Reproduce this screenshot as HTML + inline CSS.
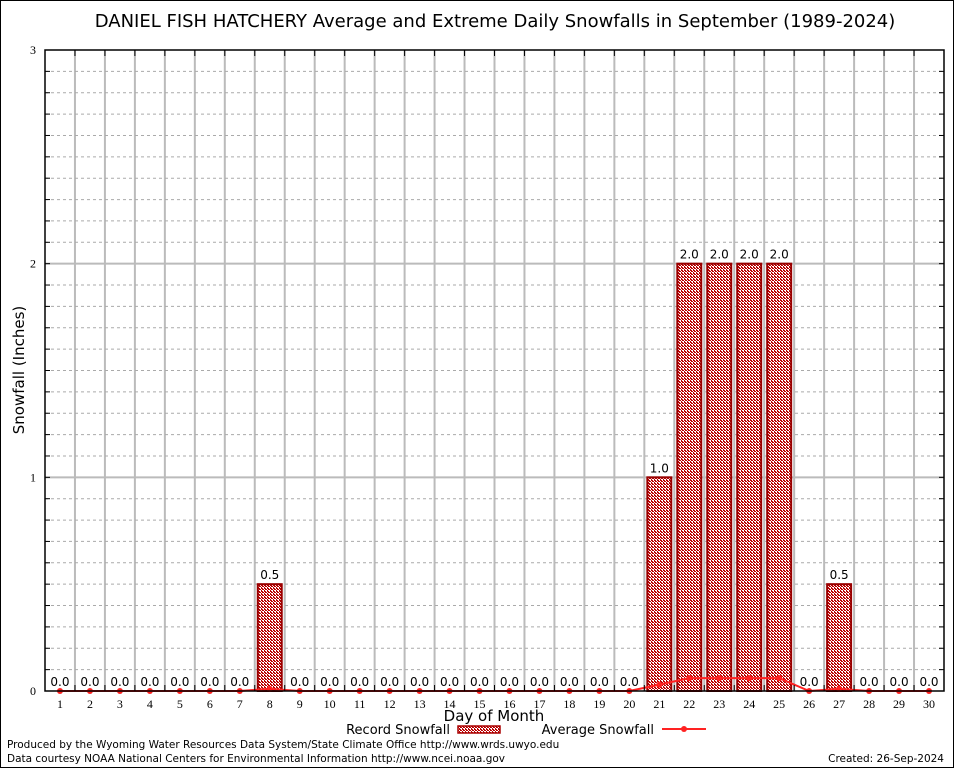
<!DOCTYPE html>
<html><head><meta charset="utf-8"><style>
body{margin:0;background:#fff}
svg{display:block;font-family:"DejaVu Sans","Liberation Sans",sans-serif}
</style></head><body>
<svg id="c" width="954" height="768" xmlns="http://www.w3.org/2000/svg">
<defs><pattern id="hatch" width="3" height="3" patternUnits="userSpaceOnUse"><rect width="3" height="3" fill="#fff"/><rect width="2" height="1" fill="#b00"/><rect x="1" y="1" width="2" height="1" fill="#b00"/><rect x="0" y="2" width="1" height="1" fill="#b00"/></pattern></defs>
<rect x="0.5" y="0.5" width="953" height="767" fill="#fff" stroke="#000"/>
<text x="495" y="27" font-size="18" text-anchor="middle">DANIEL FISH HATCHERY Average and Extreme Daily Snowfalls in September (1989-2024)</text>
<g id="grid"></g><g id="marks"></g><g id="axes"></g>
<text transform="translate(24,370) rotate(-90)" font-size="15" text-anchor="middle">Snowfall (Inches)</text>
<text x="494" y="721" font-size="15" text-anchor="middle">Day of Month</text>
<g><text x="450" y="734" font-size="13" text-anchor="end">Record Snowfall</text><rect x="458" y="726" width="42" height="7" fill="url(#hatch)" stroke="#a00" stroke-width="1.5"/></g>
<g><text x="654" y="734" font-size="13" text-anchor="end">Average Snowfall</text><line x1="662" y1="729" x2="706" y2="729" stroke="#f22" stroke-width="2"/><circle cx="684" cy="729" r="3" fill="#f22"/></g>
<text x="7" y="748" font-size="10.5">Produced by the Wyoming Water Resources Data System/State Climate Office http://www.wrds.uwyo.edu</text>
<text x="7" y="762" font-size="10.5">Data courtesy NOAA National Centers for Environmental Information http://www.ncei.noaa.gov</text>
<text x="944" y="762" font-size="10.5" text-anchor="end">Created: 26-Sep-2024</text>
</svg>
<script>
const days=[];for(let d=1;d<=30;d++)days.push(d);
const recordSnow=[0,0,0,0,0,0,0,0.5,0,0,0,0,0,0,0,0,0,0,0,0,1.0,2.0,2.0,2.0,2.0,0,0.5,0,0,0];
const avgSnow=[0,0,0,0,0,0,0,0.01,0,0,0,0,0,0,0,0,0,0,0,0,0.03,0.06,0.06,0.06,0.06,0,0.01,0,0,0];
const yTicks=[0,1,2,3];
const L=45,R=944,T=50,B=691,yMax=3;
const NS="http://www.w3.org/2000/svg";
const xs=d=>L+(d-0.5)*(R-L)/30;
const ys=v=>B-v*(B-T)/yMax;
function mk(tag,at,parent){const e=document.createElementNS(NS,tag);for(const k in at)e.setAttribute(k,at[k]);document.getElementById(parent).appendChild(e);return e;}
for(let i=1;i<30;i++){const g=mk('line',{x1:L+i*(R-L)/30,x2:L+i*(R-L)/30,y1:T,y2:B,stroke:'#bbb','stroke-width':2},'grid');

}
for(let v=0.1;v<yMax;v+=0.1){const major=Math.abs(v-Math.round(v))<1e-6;const g=mk('line',{x1:L,x2:R,y1:ys(v),y2:ys(v),stroke:major?'#bbb':'#aaa','stroke-width':major?2:1,'stroke-dasharray':major?'':'3,3'},'grid');


mk('line',{x1:L,x2:L+5,y1:ys(v),y2:ys(v),stroke:'#000'},'axes');mk('line',{x1:R,x2:R-5,y1:ys(v),y2:ys(v),stroke:'#000'},'axes');}
const bw=(R-L)/30*0.8;
days.forEach((d,i)=>{const v=recordSnow[i];
if(v>0){const b=mk('rect',{x:xs(d)-bw/2,y:ys(v),width:bw,height:B-ys(v),fill:'url(#hatch)',stroke:'#900','stroke-width':2},'marks');

}
const t=mk('text',{x:xs(d),y:ys(v)-5,'font-size':12,'text-anchor':'middle'},'marks');t.textContent=v.toFixed(1);


const tl=mk('text',{x:xs(d),y:B+17,'font-size':12,'text-anchor':'middle','font-family':'Liberation Serif, serif'},'axes');tl.textContent=d;


mk('line',{x1:L+d*(R-L)/30,x2:L+d*(R-L)/30,y1:T,y2:T+6,stroke:'#000'},'axes');mk('line',{x1:L+d*(R-L)/30,x2:L+d*(R-L)/30,y1:B,y2:B-6,stroke:'#000'},'axes');
});
const p=mk('polyline',{points:days.map((d,i)=>xs(d)+','+ys(avgSnow[i])).join(' '),fill:'none',stroke:'#f22','stroke-width':2},'marks');


days.forEach((d,i)=>{const c=mk('circle',{cx:xs(d),cy:ys(avgSnow[i]),r:3,fill:'#f22'},'marks');

});
const f=mk('rect',{x:L,y:T,width:R-L,height:B-T,fill:'none',stroke:'#000','stroke-width':1.5},'axes');


yTicks.forEach(v=>{const t=mk('text',{x:L-9,y:ys(v)+4,'font-size':12,'text-anchor':'end','font-family':'Liberation Serif, serif'},'axes');t.textContent=v;

});
</script>
</body></html>
